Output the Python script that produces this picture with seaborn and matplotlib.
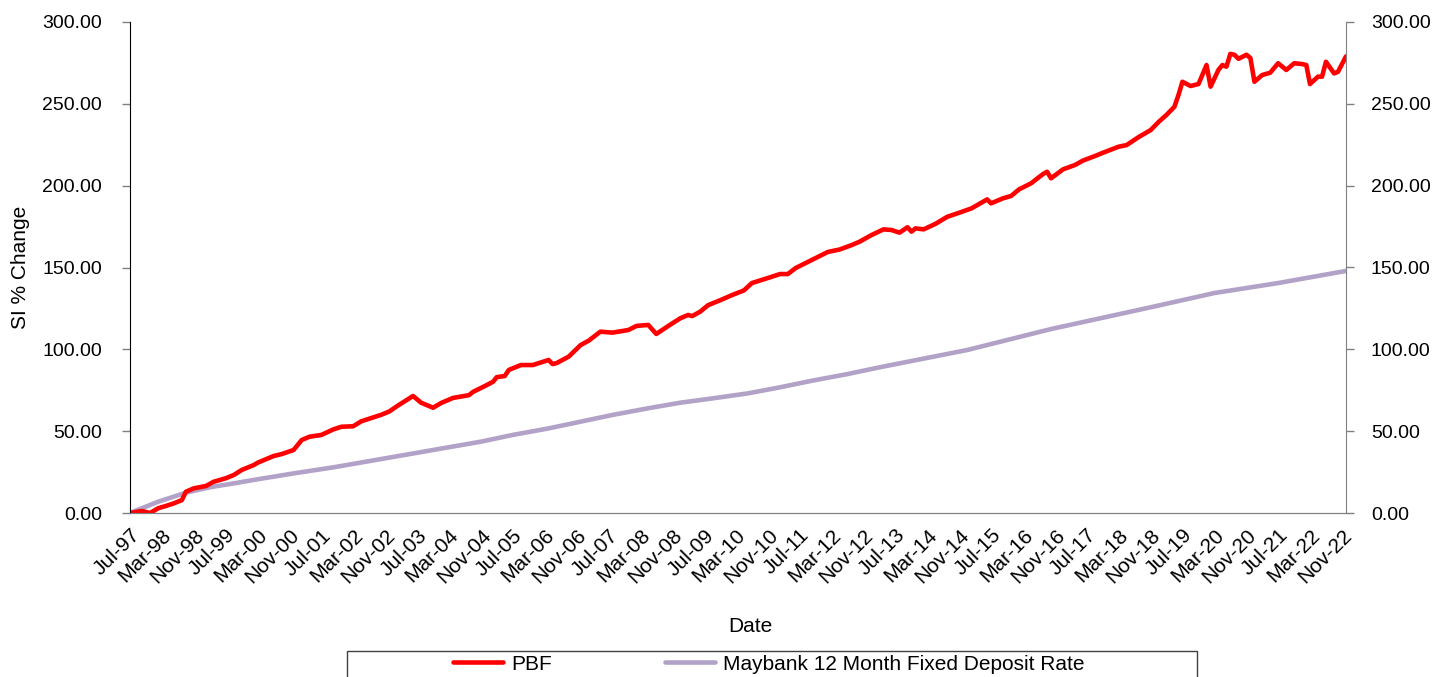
import pandas as pd
import matplotlib
matplotlib.use("Agg")
import matplotlib.pyplot as plt
from matplotlib.patches import Rectangle
from matplotlib.ticker import FormatStrFormatter
import seaborn as sns

# PBF since-inception % change
pbf_dates = ["Jul-97", "Oct-97", "Dec-97", "Feb-98", "Apr-98", "Jun-98", "Aug-98", "Sep-98",
             "Nov-98", "Feb-99", "Apr-99", "Jul-99", "Sep-99", "Nov-99", "Feb-00", "Mar-00",
             "Jul-00", "Sep-00", "Dec-00", "Feb-01", "Apr-01", "Jul-01", "Oct-01", "Dec-01",
             "Mar-02", "May-02", "Oct-02", "Dec-02", "Feb-03", "Apr-03", "Jun-03", "Aug-03",
             "Nov-03", "Jan-04", "Apr-04", "Aug-04", "Sep-04", "Dec-04", "Feb-05", "Mar-05",
             "May-05", "Jun-05", "Sep-05", "Dec-05", "Apr-06", "May-06", "Jun-06", "Sep-06",
             "Dec-06", "Feb-07", "May-07", "Aug-07", "Dec-07", "Feb-08", "May-08", "Jul-08",
             "Oct-08", "Jan-09", "Mar-09", "Apr-09", "Jun-09", "Aug-09", "Nov-09", "Feb-10",
             "May-10", "Jul-10", "Nov-10", "Feb-11", "Apr-11", "Jun-11", "Sep-11", "Nov-11",
             "Feb-12", "May-12", "Aug-12", "Oct-12", "Jan-13", "Apr-13", "Jun-13", "Aug-13",
             "Oct-13", "Nov-13", "Dec-13", "Feb-14", "May-14", "Aug-14", "Nov-14", "Feb-15",
             "Jun-15", "Jul-15", "Oct-15", "Dec-15", "Feb-16", "May-16", "Aug-16", "Sep-16",
             "Oct-16", "Jan-17", "Apr-17", "Jun-17", "Sep-17", "Nov-17", "Mar-18", "May-18",
             "Aug-18", "Nov-18", "Jan-19", "Mar-19", "May-19", "Jun-19", "Jul-19", "Sep-19",
             "Nov-19", "Jan-20", "Feb-20", "Apr-20", "May-20", "Jun-20", "Jul-20", "Aug-20",
             "Sep-20", "Nov-20", "Dec-20", "Jan-21", "Mar-21", "May-21", "Jul-21", "Sep-21",
             "Nov-21", "Jan-22", "Feb-22", "Mar-22", "May-22", "Jun-22", "Jul-22", "Sep-22",
             "Oct-22", "Dec-22"]
pbf_values = [0.0, 1.2, 0.0, 2.9, 4.3, 5.9, 7.9, 13.0,
              15.1, 16.5, 19.1, 21.2, 23.2, 26.3, 29.3, 30.7,
              34.8, 36.0, 38.5, 44.6, 46.6, 47.7, 51.1, 52.7,
              53.0, 56.0, 60.0, 62.0, 65.4, 68.4, 71.5, 67.4,
              64.3, 67.2, 70.3, 72.0, 74.0, 77.6, 80.2, 83.0,
              83.7, 87.4, 90.4, 90.4, 93.5, 91.0, 91.6, 95.5,
              102.6, 105.3, 110.8, 110.2, 111.8, 114.3, 114.9, 109.4,
              114.3, 119.0, 121.0, 120.3, 123.0, 127.0, 130.0, 133.2,
              136.0, 140.5, 143.6, 146.0, 146.0, 149.7, 153.4, 155.8,
              159.5, 161.0, 163.7, 165.8, 169.9, 173.3, 172.9, 171.3,
              174.6, 171.9, 173.9, 173.3, 176.6, 181.0, 183.5, 186.1,
              191.6, 189.2, 192.3, 193.7, 197.8, 201.4, 207.1, 208.5,
              204.5, 210.0, 212.6, 215.3, 218.1, 220.1, 223.8, 224.8,
              229.7, 234.0, 239.0, 243.2, 248.2, 255.4, 263.5, 260.9,
              262.1, 273.7, 260.5, 270.7, 273.7, 272.7, 280.5, 280.0,
              277.5, 280.0, 278.0, 263.5, 267.6, 269.0, 274.8, 270.7,
              274.8, 274.3, 273.7, 262.1, 266.6, 266.6, 275.7, 268.6,
              269.6, 279.0]

# Maybank 12 month FD rate, cumulative % change
mb_dates = ["Jul-97", "Feb-98", "Sep-98", "Mar-99", "Sep-99", "Mar-00", "Dec-00", "Oct-01",
            "Nov-04", "Jul-05", "Apr-06", "Dec-06", "Aug-07", "May-08", "Jan-09", "Sep-09",
            "Jun-10", "Feb-11", "Oct-11", "Jul-12", "Mar-13", "Jan-15", "Oct-16", "Nov-18",
            "Mar-20", "Jul-21", "Dec-22"]
mb_values = [0.0, 6.9, 12.4, 15.7, 18.1, 20.6, 24.2, 27.9,
             43.6, 47.7, 51.7, 55.8, 59.9, 64.0, 67.4, 70.0,
             73.1, 76.8, 80.8, 84.9, 89.0, 99.6, 112.4, 125.7,
             134.4, 140.5, 147.9]

series_names = ["PBF", "Maybank 12 Month Fixed Deposit Rate"]
colors = ["#FF0000", "#B3A2C7"]
tick_labels = ["Jul-97", "Mar-98", "Nov-98", "Jul-99", "Mar-00", "Nov-00", "Jul-01", "Mar-02",
               "Nov-02", "Jul-03", "Mar-04", "Nov-04", "Jul-05", "Mar-06", "Nov-06", "Jul-07",
               "Mar-08", "Nov-08", "Jul-09", "Mar-10", "Nov-10", "Jul-11", "Mar-12", "Nov-12",
               "Jul-13", "Mar-14", "Nov-14", "Jul-15", "Mar-16", "Nov-16", "Jul-17", "Mar-18",
               "Nov-18", "Jul-19", "Mar-20", "Nov-20", "Jul-21", "Mar-22", "Nov-22"]

df = pd.concat([
    pd.DataFrame({"Date": pd.to_datetime(pbf_dates, format="%b-%y"),
                  "Value": pbf_values, "Series": series_names[0]}),
    pd.DataFrame({"Date": pd.to_datetime(mb_dates, format="%b-%y"),
                  "Value": mb_values, "Series": series_names[1]}),
])

sns.set_style("white")
plt.rcParams["font.family"] = ["Liberation Sans", "DejaVu Sans"]
plt.rcParams["text.color"] = "black"
plt.rcParams["axes.labelcolor"] = "black"

fig = plt.figure(figsize=(14.34, 6.77), dpi=100)
ax = fig.add_axes([130 / 1434, 1 - 513 / 677, 1216 / 1434, 491 / 677])

sns.lineplot(data=df, x="Date", y="Value", hue="Series", hue_order=series_names[::-1],
             palette=dict(zip(series_names, colors)), linewidth=3.3, ax=ax, legend=False)

xmin = pd.to_datetime("Jul-97", format="%b-%y")
xmax = pd.to_datetime("Dec-22", format="%b-%y")
ax.set_xlim(xmin, xmax)
ax.set_ylim(0, 300)
ax.set_yticks(range(0, 301, 50))
ax.yaxis.set_major_formatter(FormatStrFormatter("%.2f"))

ticks = pd.to_datetime(tick_labels, format="%b-%y")
ax.set_xticks(ticks)
ax.set_xticklabels(tick_labels, rotation=45, ha="right", va="top", rotation_mode="anchor")
ax.tick_params(axis="x", length=0, pad=9, labelsize=15, labelcolor="black")
ax.tick_params(axis="y", direction="out", length=6, width=1, color="#808080",
               pad=14, labelsize=14, left=True, labelcolor="black")

ax2 = ax.twinx()
ax2.set_ylim(0, 300)
ax2.set_yticks(range(0, 301, 50))
ax2.yaxis.set_major_formatter(FormatStrFormatter("%.2f"))
ax2.tick_params(axis="y", direction="out", length=6, width=1, color="#808080",
                pad=12, labelsize=14, right=True, labelcolor="black")

for a in (ax, ax2):
    a.spines["top"].set_visible(False)
    a.spines["bottom"].set_color("#808080")
    a.spines["right"].set_color("#808080")
    a.spines["left"].set_color("black")
ax2.spines["left"].set_visible(False)
ax.spines["right"].set_visible(False)

ax.set_xlabel("Date", fontsize=15)
ax.set_ylabel("SI % Change", fontsize=15)
ax.xaxis.set_label_coords(620 / 1216, -104 / 491)
ax.yaxis.set_label_coords(-100 / 1216, 0.5)

# legend box at the bottom (cut off by the figure edge)
fig.add_artist(Rectangle((347 / 1434, -0.05), 850 / 1434, 0.05 + 26 / 677,
                         transform=fig.transFigure, fill=False, edgecolor="#404040", lw=1))
handles = [plt.Line2D([], [], color=c, lw=3.3) for c in colors]
fig.legend(handles, series_names, loc="center", bbox_to_anchor=(769 / 1434, 13 / 677),
           ncol=2, frameon=False, fontsize=15, handlelength=2.4, handletextpad=0.4,
           columnspacing=5.4, borderpad=0)

fig.savefig("out.png", dpi=100)
